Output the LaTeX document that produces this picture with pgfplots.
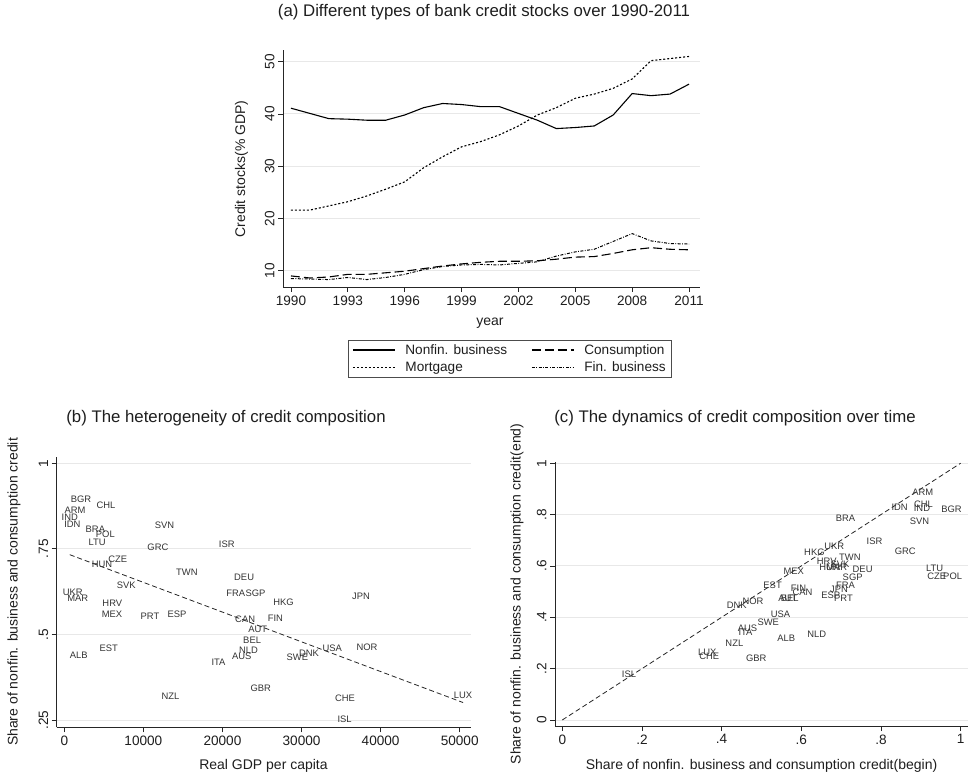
\documentclass[border=0pt]{standalone}
\usepackage{fontspec}
\setmainfont{Liberation Sans}
\usepackage{pgfplots}
\pgfplotsset{compat=1.18}
\usepackage{pgfplotstable}

\definecolor{txt}{HTML}{1E1E1E}
\definecolor{gridc}{HTML}{E8E8E8}
\definecolor{lab}{HTML}{333333}

\newcommand{\tickfont}{\fontsize{13.6}{16}\selectfont}
\newcommand{\axtfont}{\fontsize{14}{17}\selectfont}
\newcommand{\labfont}{\fontsize{9.4}{10}\selectfont}
\newcommand{\titfont}{\fontsize{16.8}{20}\selectfont}

\pgfplotsset{
  stata/.style={
    scale only axis,
    anchor=south west,
    axis x line*=bottom, axis y line*=left,
    axis line style={-, draw=black!85, line width=0.9pt},
    tick align=outside, major tick length=5pt,
    tick style={draw=black!85, line width=0.8pt},
    ymajorgrids, grid style={draw=gridc, line width=0.9pt},
    font=\tickfont,
    tick label style={font=\tickfont, text=txt},
    yticklabel style={rotate=90, anchor=south},
    /pgf/number format/assume math mode=true,
    scaled ticks=false,
  },
  clabels/.style={
    only marks, mark=*, mark size=0pt,
    mark options={draw opacity=0, fill opacity=0},
    point meta=explicit symbolic,
    nodes near coords={\pgfplotspointmeta},
    nodes near coords style={anchor=center, font=\labfont, text=lab, inner sep=0pt,
      opacity=1, text opacity=1},
  },
}

\pgfplotstableread{
year nonfin mort cons fin
1990 41.1 21.6 9.0 8.5
1991 40.1 21.6 8.6 8.4
1992 39.1 22.4 8.8 8.3
1993 39.0 23.2 9.3 8.7
1994 38.8 24.3 9.3 8.3
1995 38.8 25.6 9.6 8.7
1996 39.8 27.0 9.9 9.3
1997 41.2 29.7 10.4 10.2
1998 42.0 31.8 10.9 10.8
1999 41.8 33.7 11.3 11.1
2000 41.4 34.7 11.6 11.2
2001 41.4 36.0 11.8 11.1
2002 40.1 37.7 11.8 11.4
2003 38.8 39.8 11.9 11.7
2004 37.2 41.2 12.2 12.8
2005 37.4 43.0 12.6 13.6
2006 37.7 43.8 12.7 14.1
2007 39.8 44.9 13.3 15.6
2008 43.9 46.7 14.0 17.1
2009 43.5 50.2 14.4 15.7
2010 43.8 50.6 14.1 15.2
2011 45.7 51.0 14.0 15.1
}\creditdata

\pgfplotstableread{
x y lab
2120 0.895 BGR
1360 0.863 ARM
5280 0.878 CHL
690 0.841 IND
1020 0.823 IDN
3930 0.808 BRA
5190 0.792 POL
4140 0.770 LTU
12680 0.819 SVN
11840 0.756 GRC
20550 0.764 ISR
4770 0.704 HUN
6750 0.719 CZE
15500 0.682 TWN
7840 0.643 SVK
1070 0.624 UKR
1700 0.607 MAR
6070 0.592 HRV
6030 0.558 MEX
10830 0.553 PRT
14240 0.558 ESP
5610 0.461 EST
1820 0.440 ALB
19500 0.419 ITA
22740 0.668 DEU
21690 0.621 FRA
24170 0.621 SGP
27710 0.595 HKG
37510 0.612 JPN
22870 0.543 CAN
26700 0.546 FIN
24470 0.515 AUT
23750 0.484 BEL
23290 0.454 NLD
22450 0.436 AUS
29470 0.434 SWE
30950 0.446 DNK
33890 0.461 USA
38270 0.463 NOR
24850 0.343 GBR
13440 0.319 NZL
35490 0.313 CHE
35450 0.253 ISL
50430 0.323 LUX
}\bdata

\pgfplotstableread{
x y lab
0.905 0.887 ARM
0.847 0.828 IDN
0.907 0.839 CHL
0.903 0.823 IND
0.977 0.822 BGR
0.897 0.773 SVN
0.711 0.787 BRA
0.784 0.698 ISR
0.861 0.659 GRC
0.683 0.676 UKR
0.633 0.654 HKG
0.722 0.633 TWN
0.664 0.617 HRV
0.671 0.595 HUN
0.689 0.595 MAR
0.697 0.607 SVK
0.754 0.587 DEU
0.935 0.591 LTU
0.940 0.561 CZE
0.980 0.561 POL
0.581 0.578 MEX
0.729 0.556 SGP
0.711 0.523 FRA
0.695 0.510 JPN
0.674 0.486 ESP
0.706 0.474 PRT
0.528 0.523 EST
0.593 0.513 FIN
0.603 0.496 CAN
0.566 0.474 AUT
0.571 0.474 BEL
0.479 0.464 NOR
0.438 0.445 DNK
0.548 0.411 USA
0.517 0.380 SWE
0.465 0.356 AUS
0.460 0.343 ITA
0.562 0.319 ALB
0.639 0.333 NLD
0.432 0.297 NZL
0.364 0.265 LUX
0.369 0.249 CHE
0.487 0.241 GBR
0.1675 0.180 ISL
}\cdata

\begin{document}
\begin{tikzpicture}[x=1pt,y=1pt]
\useasboundingbox (0,0) rectangle (968,779);

% ---------------- panel (a)
\begin{axis}[stata, at={(283pt,492pt)}, width=417pt, height=237pt,
  xmin=1989.58, xmax=2011.58, ymin=6.88, ymax=52.24,
  xtick={1990,1993,1996,1999,2002,2005,2008,2011},
  xticklabels={1990,1993,1996,1999,2002,2005,2008,2011},
  ytick={10,20,30,40,50}, yticklabels={10,20,30,40,50},
  legend columns=2,
  legend cell align=left,
  legend image code/.code={\draw[#1] (0pt,0pt) -- (42pt,0pt);},
  legend style={at={(0.5444,-0.2236)}, anchor=north, draw=black!70, line width=0.7pt,
    font=\tickfont, text=txt, inner xsep=4pt, inner ysep=3pt, row sep=4pt,
    nodes={inner xsep=2pt, inner ysep=1pt},
    /tikz/every odd column/.append style={column sep=8pt},
    /tikz/every even column/.append style={column sep=22pt}},
]
\addplot[black, line width=1.1pt] table[x=year,y=nonfin]{\creditdata};
\addlegendentry{Nonfin. business}
\addplot[black, line width=1.1pt, dash pattern=on 9pt off 4pt] table[x=year,y=cons]{\creditdata};
\addlegendentry{Consumption\hspace{16pt}}
\addplot[black, line width=1.1pt, dash pattern=on 2pt off 2pt] table[x=year,y=mort]{\creditdata};
\addlegendentry{Mortgage}
\addplot[black, line width=1.0pt, dash pattern=on 3pt off 1.5pt on 0.8pt off 1.5pt] table[x=year,y=fin]{\creditdata};
\addlegendentry{Fin. business}
\end{axis}

% ---------------- panel (b)
\begin{axis}[stata, at={(56.7pt,51.7pt)}, width=414pt, height=270.6pt,
  xmin=-962, xmax=51391, ymin=0.2287, ymax=1.0193,
  xtick={0,10000,20000,30000,40000,50000},
  xticklabels={0,10000,20000,30000,40000,50000},
  ytick={0.25,0.5,0.75,1}, yticklabels={.25,.5,.75,1},
  clip=false]
\addplot[black!85, line width=0.8pt, dash pattern=on 5pt off 3pt] coordinates {(690,0.733) (50430,0.301)};
\addplot[clabels] table[x=x,y=y,meta=lab]{\bdata};
\end{axis}

% ---------------- panel (c)
\begin{axis}[stata, at={(555pt,53pt)}, width=413pt, height=264.3pt,
  xmin=-0.0183, xmax=1.0186, ymin=-0.0234, ymax=1.006,
  xtick={0,0.2,0.4,0.6,0.8,1}, xticklabels={0,.2,.4,.6,.8,1},
  ytick={0,0.2,0.4,0.6,0.8,1}, yticklabels={0,.2,.4,.6,.8,1},
  clip=false]
\addplot[black!85, line width=0.8pt, dash pattern=on 5pt off 3pt] coordinates {(0,0) (1,1)};
\addplot[clabels] table[x=x,y=y,meta=lab]{\cdata};
\end{axis}

% ---------------- titles and axis titles
\node[font=\titfont, text=txt] at (484,767) {(a) Different types of bank credit stocks over 1990-2011};
\node[font=\axtfont, text=txt, rotate=90] at (241.5,610) {Credit stocks(\% GDP)};
\node[font=\axtfont, text=txt] at (490,456) {year};

\node[font=\titfont, text=txt] at (226,361) {(b) The heterogeneity of credit composition};
\node[font=\axtfont, text=txt, rotate=90] at (14,187) {Share of nonfin. business and consumption credit};
\node[font=\axtfont, text=txt] at (263.5,13) {Real GDP per capita};

\node[font=\titfont, text=txt] at (735,361) {(c) The dynamics of credit composition over time};
\node[font=\axtfont, text=txt, rotate=90] at (517,185) {Share of nonfin. business and consumption credit(end)};
\node[font=\axtfont, text=txt] at (761.5,13) {Share of nonfin. business and consumption credit(begin)};
\end{tikzpicture}
\end{document}
